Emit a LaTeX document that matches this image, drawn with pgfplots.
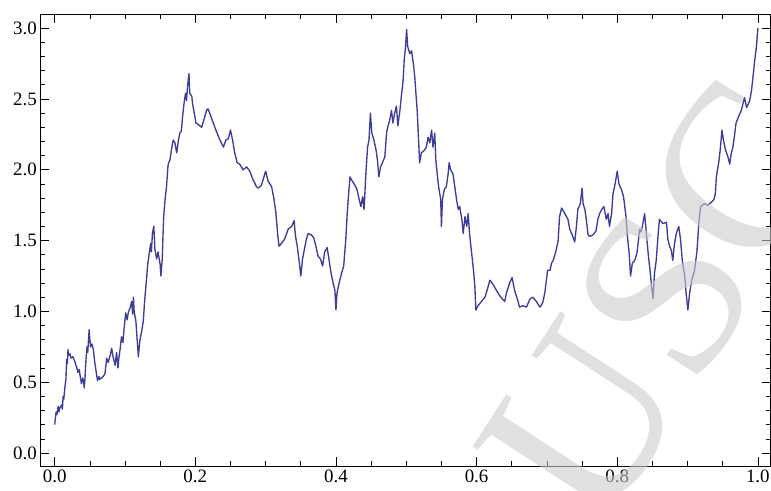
\documentclass[border=0pt]{standalone}
\usepackage{fontspec}
\setmainfont{Liberation Serif}
\usepackage{pgfplots}
\pgfplotsset{compat=1.18}
\definecolor{mmablue}{RGB}{61,61,153}
\definecolor{wmgray}{RGB}{203,203,203}
\begin{document}
\begin{tikzpicture}
\begin{axis}[
  name=ax,
  width=730.7bp, height=452.7bp, scale only axis,
  xmin=-0.0205, xmax=1.018, ymin=-0.0946, ymax=3.100,
  xtick={0,0.2,0.4,0.6,0.8,1.0}, minor x tick num=3,
  ytick={0,0.5,1.0,1.5,2.0,2.5,3.0}, minor y tick num=4,
  tick align=inside,
  major tick length=9bp, minor tick length=5bp,
  axis line style={line width=0.8bp},
  tick style={line width=0.6bp, black},
  xticklabel style={/pgf/number format/.cd, fixed, fixed zerofill, precision=1},
  yticklabel style={/pgf/number format/.cd, fixed, fixed zerofill, precision=1},
  /pgf/number format/assume math mode=true,
  tick label style={font=\fontsize{19}{21}\selectfont, black},
]
\addplot[color=mmablue, line width=1.35bp, line join=round] coordinates {
(0.000,0.20)(0.002,0.29)(0.003,0.27)(0.005,0.33)(0.006,0.29)(0.0075,0.32)(0.010,0.34)(0.011,0.31)
(0.012,0.40)(0.013,0.38)(0.0146,0.47)(0.016,0.52)(0.017,0.66)(0.018,0.63)(0.019,0.73)(0.020,0.69)
(0.022,0.70)(0.023,0.67)(0.026,0.68)(0.029,0.64)(0.031,0.61)(0.033,0.57)(0.035,0.59)(0.036,0.55)
(0.038,0.49)(0.040,0.53)(0.041,0.51)(0.042,0.46)(0.043,0.52)(0.0445,0.66)(0.046,0.75)(0.047,0.71)
(0.049,0.87)(0.050,0.80)(0.051,0.75)(0.053,0.77)(0.055,0.73)(0.057,0.64)(0.060,0.54)(0.061,0.51)
(0.063,0.54)(0.064,0.52)(0.069,0.54)(0.0715,0.56)(0.074,0.67)(0.076,0.64)(0.079,0.69)(0.081,0.74)
(0.083,0.68)(0.086,0.62)(0.088,0.71)(0.090,0.60)(0.091,0.66)(0.093,0.73)(0.095,0.82)(0.097,0.78)
(0.0985,0.87)(0.101,0.99)(0.103,0.94)(0.105,1.00)(0.107,1.02)(0.1095,1.07)(0.111,0.98)(0.112,1.10)
(0.113,1.00)(0.1155,0.93)(0.117,0.82)(0.119,0.68)(0.121,0.79)(0.124,0.87)(0.126,0.93)(0.128,1.08)
(0.131,1.25)(0.132,1.32)(0.1345,1.41)(0.1365,1.48)(0.1375,1.42)(0.139,1.55)(0.141,1.60)(0.1425,1.44)
(0.145,1.37)(0.147,1.42)(0.150,1.33)(0.151,1.25)(0.153,1.37)(0.154,1.53)(0.155,1.67)(0.157,1.79)
(0.159,1.88)(0.161,2.02)(0.162,2.05)(0.164,2.07)(0.166,2.14)(0.1685,2.21)(0.171,2.19)(0.1735,2.12)
(0.176,2.21)(0.178,2.26)(0.180,2.27)(0.182,2.38)(0.184,2.47)(0.186,2.54)(0.1875,2.49)(0.189,2.59)
(0.191,2.68)(0.192,2.54)(0.195,2.52)(0.196,2.47)(0.1985,2.40)(0.201,2.33)(0.204,2.32)(0.209,2.30)
(0.212,2.35)(0.216,2.42)(0.218,2.43)(0.222,2.38)(0.2255,2.33)(0.230,2.27)(0.235,2.21)(0.240,2.16)
(0.2435,2.21)(0.247,2.22)(0.250,2.28)(0.253,2.21)(0.256,2.12)(0.2595,2.05)(0.263,2.04)(0.268,2.00)
(0.273,2.02)(0.2775,1.99)(0.282,1.93)(0.287,1.88)(0.2895,1.87)(0.294,1.89)(0.300,1.99)(0.3035,1.92)
(0.3085,1.88)(0.312,1.79)(0.3145,1.70)(0.317,1.55)(0.319,1.46)(0.3225,1.48)(0.327,1.51)(0.332,1.58)
(0.337,1.60)(0.3405,1.64)(0.3425,1.53)(0.345,1.46)(0.348,1.34)(0.350,1.25)(0.3525,1.37)(0.356,1.46)
(0.358,1.51)(0.3605,1.55)(0.365,1.54)(0.3685,1.52)(0.3715,1.46)(0.3745,1.39)(0.378,1.37)(0.381,1.32)
(0.384,1.42)(0.3875,1.45)(0.390,1.37)(0.393,1.27)(0.396,1.20)(0.3985,1.15)(0.400,1.01)(0.4015,1.13)
(0.4045,1.20)(0.408,1.27)(0.411,1.32)(0.414,1.51)(0.416,1.69)(0.418,1.83)(0.420,1.95)(0.422,1.93)
(0.427,1.89)(0.430,1.86)(0.433,1.79)(0.4355,1.74)(0.438,1.81)(0.440,1.72)(0.4425,1.97)(0.445,2.16)
(0.447,2.21)(0.449,2.40)(0.451,2.26)(0.454,2.21)(0.457,2.14)(0.459,2.07)(0.461,1.95)(0.4635,2.02)
(0.466,2.05)(0.4695,2.09)(0.472,2.26)(0.474,2.31)(0.4765,2.35)(0.479,2.42)(0.481,2.33)(0.4835,2.40)
(0.486,2.45)(0.488,2.31)(0.491,2.42)(0.493,2.52)(0.4955,2.63)(0.497,2.77)(0.499,2.87)(0.5005,2.99)
(0.502,2.87)(0.505,2.82)(0.5075,2.84)(0.510,2.75)(0.512,2.66)(0.514,2.52)(0.5155,2.42)(0.5175,2.21)
(0.519,2.05)(0.5215,2.12)(0.524,2.13)(0.526,2.14)(0.5285,2.16)(0.531,2.23)(0.5335,2.19)(0.536,2.28)
(0.538,2.16)(0.5405,2.26)(0.542,2.07)(0.544,1.97)(0.546,1.88)(0.549,1.79)(0.550,1.60)(0.5515,1.79)
(0.554,1.86)(0.557,1.88)(0.5595,1.97)(0.561,2.05)(0.563,2.00)(0.5665,1.97)(0.569,1.88)(0.5715,1.79)
(0.574,1.72)(0.576,1.74)(0.579,1.65)(0.581,1.55)(0.5835,1.67)(0.586,1.60)(0.588,1.69)(0.590,1.55)
(0.593,1.41)(0.595,1.32)(0.5975,1.18)(0.599,1.01)(0.602,1.04)(0.607,1.07)(0.612,1.10)(0.615,1.15)
(0.619,1.22)(0.6235,1.19)(0.628,1.15)(0.633,1.11)(0.638,1.08)(0.640,1.07)(0.6425,1.13)(0.647,1.20)
(0.6505,1.24)(0.654,1.15)(0.659,1.07)(0.661,1.03)(0.666,1.04)(0.671,1.03)(0.676,1.09)(0.680,1.10)
(0.685,1.07)(0.690,1.03)(0.694,1.06)(0.697,1.13)(0.701,1.29)(0.7045,1.29)(0.7065,1.34)(0.709,1.36)
(0.713,1.43)(0.716,1.50)(0.718,1.67)(0.721,1.73)(0.7255,1.69)(0.730,1.65)(0.7325,1.58)(0.736,1.54)
(0.7395,1.49)(0.742,1.60)(0.744,1.72)(0.7475,1.76)(0.750,1.87)(0.7515,1.76)(0.754,1.72)(0.756,1.65)
(0.7585,1.54)(0.761,1.53)(0.7655,1.54)(0.770,1.57)(0.7725,1.65)(0.775,1.69)(0.778,1.72)(0.781,1.74)
(0.7845,1.65)(0.787,1.69)(0.789,1.60)(0.792,1.69)(0.794,1.83)(0.797,1.90)(0.800,1.99)(0.8025,1.90)
(0.806,1.86)(0.809,1.81)(0.8125,1.67)(0.8145,1.53)(0.817,1.41)(0.819,1.25)(0.8215,1.34)(0.825,1.36)
(0.828,1.41)(0.832,1.58)(0.834,1.56)(0.8365,1.62)(0.839,1.69)(0.8415,1.55)(0.844,1.41)(0.846,1.32)
(0.8495,1.15)(0.851,1.09)(0.853,1.27)(0.8555,1.36)(0.858,1.53)(0.860,1.65)(0.865,1.62)(0.870,1.63)
(0.872,1.51)(0.8745,1.46)(0.877,1.43)(0.879,1.36)(0.8815,1.48)(0.884,1.55)(0.8875,1.60)(0.890,1.51)
(0.8925,1.36)(0.896,1.25)(0.898,1.13)(0.9005,1.01)(0.903,1.13)(0.906,1.22)(0.910,1.29)(0.9135,1.43)
(0.916,1.62)(0.9185,1.74)(0.924,1.76)(0.929,1.75)(0.934,1.77)(0.9375,1.79)(0.9395,1.83)(0.941,1.95)
(0.944,2.04)(0.9465,2.14)(0.949,2.28)(0.951,2.21)(0.954,2.14)(0.9575,2.09)(0.960,2.04)(0.962,2.11)
(0.9645,2.16)(0.967,2.25)(0.969,2.33)(0.973,2.38)(0.9765,2.42)(0.979,2.47)(0.981,2.51)(0.984,2.44)
(0.986,2.46)(0.9885,2.49)(0.991,2.56)(0.993,2.65)(0.9955,2.77)(0.998,2.87)(1.000,3.00)
};
\coordinate (wm) at (axis cs:0.863,1.08);
\end{axis}
\node[rotate=57, inner sep=0pt, text=wmgray, opacity=0.6, font=\fontsize{238}{238}\selectfont] at (wm) {USC};
\pgfresetboundingbox
\path[use as bounding box] ([xshift=-40.3bp,yshift=-24.3bp]ax.south west) rectangle ([xshift=0.5bp,yshift=14bp]ax.north east);
\end{tikzpicture}
\end{document}
